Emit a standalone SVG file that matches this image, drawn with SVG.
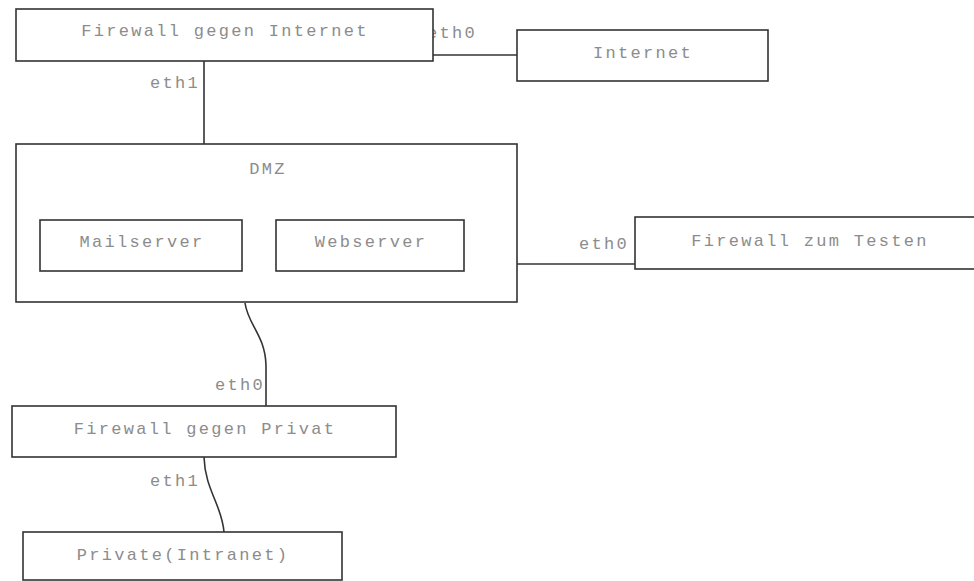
<svg xmlns="http://www.w3.org/2000/svg" width="974" height="581" viewBox="0 0 974 581">
  <style>
    .box { fill: #ffffff; stroke: #333333; stroke-width: 1.6; }
    .link { fill: none; stroke: #333333; stroke-width: 1.6; }
    .label { font-family: "Liberation Mono", "DejaVu Sans Mono", monospace; font-size: 17px; letter-spacing: 2.3px; fill: #8c8c8c; }
    .mid { text-anchor: middle; }
    .end { text-anchor: end; }
  </style>
  <rect width="974" height="581" fill="#ffffff"/>

  <!-- connectors -->
  <g id="connectors">
    <path class="link" d="M433,55 L517,55"/>
    <path class="link" d="M204,61 L204,144"/>
    <path class="link" d="M517,264 L635,264"/>
    <path class="link" d="M245,303 C248,325 265,335 266,365 L266,406"/>
    <path class="link" d="M204,457 C205,490 222,505 224,532"/>
    <text class="label end" x="477" y="38">eth0</text>
    <text class="label end" x="200" y="88">eth1</text>
    <text class="label end" x="629" y="249">eth0</text>
    <text class="label end" x="265" y="390">eth0</text>
    <text class="label end" x="200" y="486">eth1</text>
  </g>

  <g id="fw-internet">
    <rect class="box" x="16" y="9" width="417" height="52"/>
    <text class="label mid" x="225" y="36">Firewall gegen Internet</text>
  </g>

  <g id="internet">
    <rect class="box" x="517" y="30" width="251" height="51"/>
    <text class="label mid" x="643" y="58">Internet</text>
  </g>

  <g id="dmz">
    <rect class="box" x="16" y="144" width="501" height="158"/>
    <text class="label mid" x="268" y="174">DMZ</text>
    <g id="mailserver">
      <rect class="box" x="40" y="220" width="202" height="51"/>
      <text class="label mid" x="142" y="247">Mailserver</text>
    </g>
    <g id="webserver">
      <rect class="box" x="276" y="220" width="188" height="51"/>
      <text class="label mid" x="371" y="247">Webserver</text>
    </g>
  </g>

  <g id="fw-testen">
    <rect class="box" x="635" y="217" width="345" height="52"/>
    <text class="label mid" x="810" y="246">Firewall zum Testen</text>
  </g>

  <g id="fw-privat">
    <rect class="box" x="12" y="406" width="384" height="51"/>
    <text class="label mid" x="205" y="434">Firewall gegen Privat</text>
  </g>

  <g id="private">
    <rect class="box" x="23" y="532" width="319" height="48"/>
    <text class="label mid" x="183" y="560">Private(Intranet)</text>
  </g>
</svg>
